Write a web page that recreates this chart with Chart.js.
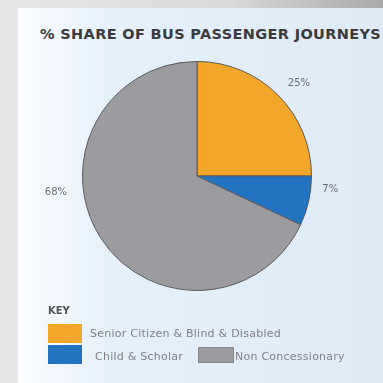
<!DOCTYPE html>
<html>
<head>
<meta charset="utf-8">
<script src="https://cdn.jsdelivr.net/npm/chart.js@4"></script>
<style>
  html, body { margin: 0; padding: 0; }
  body {
    width: 383px; height: 383px; overflow: hidden; position: relative;
    background: linear-gradient(to right, #e6e6e6 0%, #d9d9d9 60%, #a9a9a9 100%);
    font-family: "DejaVu Sans", sans-serif;
  }
  #panel {
    position: absolute; left: 18px; top: 8px; right: 0; bottom: 0;
    background: linear-gradient(to right, #fbfdff 0%, #e4f0fa 25%, #deebf6 100%);
  }
  #wrap { position: absolute; left: 0; top: 0; width: 383px; height: 383px; }
  #title {
    position: absolute; left: 40px; top: 26px; white-space: nowrap;
    font: bold 14.5px "DejaVu Sans", sans-serif; color: #3b3b3d; letter-spacing: 0.35px;
  }
  #key { position: absolute; left: 48px; top: 305px; color: #80808a; font-size: 11px; }
  #key .head { position: absolute; left: 0; top: 0; font-weight: bold; color: #555; font-size: 10px; }
  .item { position: absolute; white-space: nowrap; letter-spacing: 0.25px; }
  .sw { position: absolute; width: 34px; height: 19px; }
</style>
</head>
<body>
<div id="panel"></div>
<div id="title"></div>
<div id="wrap"><canvas id="chart" width="383" height="383"></canvas></div>
<div id="key"><div class="head">KEY</div></div>
<script>
const categories = ['Senior Citizen & Blind & Disabled', 'Child & Scholar', 'Non Concessionary'];
const shares = [25, 7, 68];
const sliceLabels = ['25%', '7%', '68%'];
const colours = ['#f2a62a', '#2373c3', '#9c9ca0'];
const titleText = '% SHARE OF BUS PASSENGER JOURNEYS';

document.getElementById('title').textContent = titleText;

// key laid out like the printed one: first entry on its own row
const key = document.getElementById('key');
const keySpots = [
  { x: 0, y: 19, tx: 42, ty: 22 },
  { x: 0, y: 40, tx: 47, ty: 45 },
  { x: 150, y: 42, tx: 187, ty: 45 }
];
categories.forEach(function(c, i) {
  const sw = document.createElement('div');
  sw.className = 'sw';
  sw.style.left = keySpots[i].x + 'px';
  sw.style.top = keySpots[i].y + 'px';
  sw.style.background = colours[i];
  if (i === 2) { sw.style.height = '14px'; sw.style.border = '1px solid #8a8a8e'; }
  key.appendChild(sw);
  const t = document.createElement('div');
  t.className = 'item';
  t.style.left = keySpots[i].tx + 'px';
  t.style.top = keySpots[i].ty + 'px';
  t.textContent = c;
  key.appendChild(t);
});

// percent labels outside the pie
const outsideLabels = {
  id: 'outsideLabels',
  afterDatasetsDraw(chart) {
    const ctx = chart.ctx;
    const meta = chart.getDatasetMeta(0);
    const place = [
      { da: 0.05, k: 1.2 },
      { da: -0.12, k: 1.17 },
      { da: 0.45, k: 1.24 }
    ];
    ctx.save();
    ctx.font = '10px "DejaVu Sans", sans-serif';
    ctx.fillStyle = '#6c6c72';
    ctx.textAlign = 'center';
    ctx.textBaseline = 'middle';
    meta.data.forEach(function(arc, i) {
      const p = arc.getProps(['x', 'y', 'startAngle', 'endAngle', 'outerRadius'], true);
      const a = (p.startAngle + p.endAngle) / 2 + place[i].da;
      const r = p.outerRadius * place[i].k;
      ctx.fillText(sliceLabels[i], p.x + Math.cos(a) * r, p.y + Math.sin(a) * r);
    });
    ctx.restore();
  }
};

new Chart(document.getElementById('chart'), {
  type: 'pie',
  data: {
    labels: categories,
    datasets: [{
      data: shares,
      backgroundColor: colours,
      borderColor: '#5a5a5e',
      borderWidth: 1
    }]
  },
  options: {
    responsive: false,
    animation: false,
    layout: { padding: { left: 82, right: 71, top: 61, bottom: 92 } },
    plugins: {
      legend: { display: false },
      tooltip: { enabled: false }
    }
  },
  plugins: [outsideLabels]
});
</script>
</body>
</html>
